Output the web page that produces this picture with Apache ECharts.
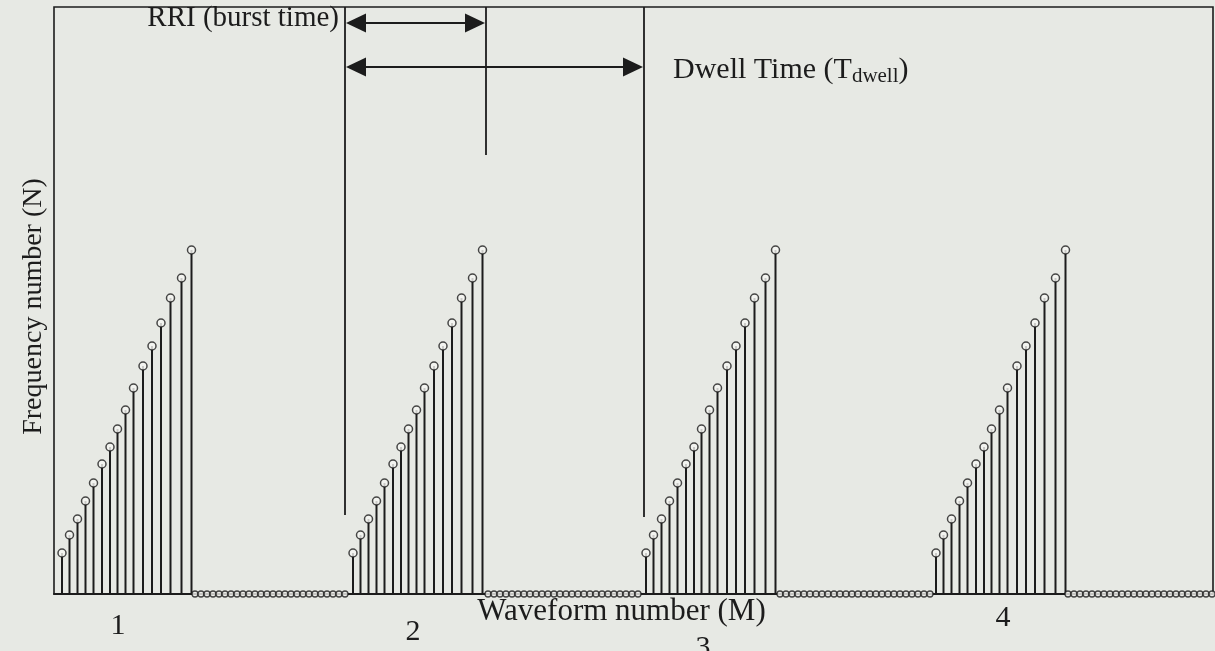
<!DOCTYPE html>
<html>
<head>
<meta charset="utf-8">
<script src="https://cdn.jsdelivr.net/npm/echarts@6/dist/echarts.min.js"></script>
<style>
html,body{margin:0;padding:0;background:#e7e9e4;}
#c{width:1215px;height:651px;}
</style>
</head>
<body>
<div id="c"></div>
<script>
// ---- data (time axis units, frequency number units) ----
const burstStarts = [8, 299, 592, 882];
const stemOffsets = [0, 7.5, 15.5, 23.5, 31.5, 40, 48, 55.5, 63.5, 71.5, 81, 90, 99, 108.5, 119.5, 129.5];
const stemHeights = [41, 59, 75, 93, 111, 130, 147, 165, 184, 206, 228, 248, 271, 296, 316, 344];
const gapStarts = [141, 434, 726, 1014];
const zeroOffsets = [0, 6, 12, 18, 24, 30, 36, 42, 48, 54, 60, 66, 72, 78, 84, 90, 96, 102, 108, 114, 120, 126, 132, 138, 144, 150];
const zeroCounts = [26, 26, 26, 25];
const tickPositions = [64, 359, 649, 949];
const tickLabels = ['1', '2', '3', '4'];
// guide lines: [time, fromN, toN]
const guideLines = [[291, 79, 587], [432, 439, 587], [590, 77, 587]];
// arrows: [startTime, endTime, level]
const arrows = [[291, 432, 571], [291, 590, 527]];

const stems = [];
burstStarts.forEach(b => stemOffsets.forEach((o, i) => stems.push([b + o, stemHeights[i]])));
const zeros = [];
gapStarts.forEach((g, k) => zeroOffsets.slice(0, zeroCounts[k]).forEach(o => zeros.push([g + o, 0])));

const ink = '#1c1c1c';
const serif = 'Liberation Serif';
const chart = echarts.init(document.getElementById('c'));
chart.setOption({
  backgroundColor: '#e7e9e4',
  animation: false,
  grid: {left: 54, right: 2, top: 7, bottom: 57, containLabel: false, outerBoundsMode: 'none',
         show: true, borderColor: ink, borderWidth: 1.6, backgroundColor: 'transparent'},
  xAxis: {
    type: 'value', min: 0, max: 1159,
    axisLine: {show: true, lineStyle: {color: ink, width: 1.8}},
    axisTick: {show: false}, splitLine: {show: false},
    axisLabel: {
      customValues: tickPositions, margin: 4,
      formatter: v => { const i = tickPositions.indexOf(v); return '{l' + i + '|' + tickLabels[i] + '}'; },
      rich: {
        l0: {fontFamily: serif, fontSize: 30, color: ink, padding: [13, 0, 0, 0]},
        l1: {fontFamily: serif, fontSize: 30, color: ink, padding: [19, 0, 0, 0]},
        l2: {fontFamily: serif, fontSize: 30, color: ink, padding: [35, 0, 0, 0]},
        l3: {fontFamily: serif, fontSize: 30, color: ink, padding: [5, 0, 0, 0]}
      }
    },
    name: 'Waveform number (M)', nameLocation: 'middle', nameGap: 2, nameMoveOverlap: false,
    nameTextStyle: {fontFamily: serif, fontSize: 31, color: ink, verticalAlign: 'top', padding: [0, 24, 0, 0]}
  },
  yAxis: {
    type: 'value', min: 0, max: 587,
    axisLine: {show: false}, axisTick: {show: false}, axisLabel: {show: false}, splitLine: {show: false},
    name: 'Frequency number (N)', nameLocation: 'middle', nameGap: 6, nameMoveOverlap: false,
    nameTextStyle: {fontFamily: serif, fontSize: 28, color: ink, padding: [0, 12, 0, 0]}
  },
  series: [
    {
      type: 'custom', name: 'stems', data: stems, z: 2,
      renderItem: (params, api) => {
        const p0 = api.coord([api.value(0), 0]);
        const p1 = api.coord([api.value(0), api.value(1)]);
        return {type: 'line', shape: {x1: p0[0], y1: p0[1], x2: p1[0], y2: p1[1]}, style: {stroke: ink, lineWidth: 2}};
      }
    },
    {
      type: 'scatter', name: 'tops', data: stems, z: 3, symbol: 'circle', symbolSize: 8,
      itemStyle: {color: '#f6f6f2', borderColor: ink, borderWidth: 1.5}
    },
    {
      type: 'scatter', name: 'zeros', data: zeros, z: 3, symbol: 'circle', symbolSize: 6,
      itemStyle: {color: '#f0f0ec', borderColor: ink, borderWidth: 1.3}
    },
    {
      type: 'custom', name: 'guides', data: guideLines, z: 2,
      renderItem: (params, api) => {
        const p0 = api.coord([api.value(0), api.value(1)]);
        const p1 = api.coord([api.value(0), api.value(2)]);
        return {type: 'line', shape: {x1: p0[0], y1: p0[1], x2: p1[0], y2: p1[1]}, style: {stroke: ink, lineWidth: 1.8}};
      }
    },
    {
      type: 'custom', name: 'arrows', data: arrows, z: 4,
      renderItem: (params, api) => {
        const a = api.coord([api.value(0), api.value(2)]);
        const b = api.coord([api.value(1), api.value(2)]);
        const L = 20, H = 9.5;
        return {type: 'group', children: [
          {type: 'line', shape: {x1: a[0] + 5, y1: a[1], x2: b[0] - 5, y2: b[1]}, style: {stroke: ink, lineWidth: 1.8}},
          {type: 'polygon', shape: {points: [[a[0] + 1, a[1]], [a[0] + 1 + L, a[1] - H], [a[0] + 1 + L, a[1] + H]]}, style: {fill: ink}},
          {type: 'polygon', shape: {points: [[b[0] - 1, b[1]], [b[0] - 1 - L, b[1] - H], [b[0] - 1 - L, b[1] + H]]}, style: {fill: ink}}
        ]};
      }
    }
  ],
  graphic: [
    {type: 'text', right: 1215 - 339, top: 4, style: {text: 'RRI (burst time)', fontFamily: serif, fontSize: 29, fill: ink}},
    {type: 'text', left: 673, top: 55, style: {
      text: '{n|Dwell Time (T}{s|dwell}{n|)}',
      rich: {
        n: {fontFamily: serif, fontSize: 30, fill: ink, lineHeight: 34},
        s: {fontFamily: serif, fontSize: 21, fill: ink, lineHeight: 21, verticalAlign: 'bottom'}
      }
    }}
  ]
});
</script>
</body>
</html>
